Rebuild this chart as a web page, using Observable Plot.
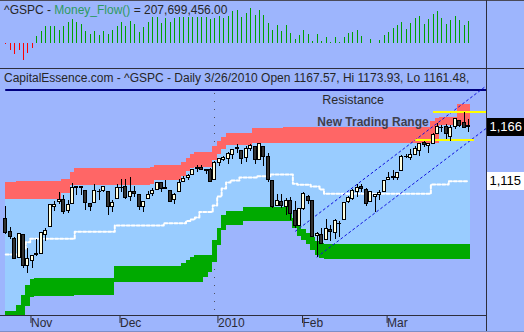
<!DOCTYPE html>
<html><head><meta charset="utf-8">
<script src="https://cdn.jsdelivr.net/npm/d3@7"></script>
<script src="https://cdn.jsdelivr.net/npm/@observablehq/plot@0.6"></script>
<style>
html,body{margin:0;padding:0;background:#9db5fd;}
#chart{position:relative;width:524px;height:332px;overflow:hidden;background:#9db5fd;font-family:"Liberation Sans",Arial,sans-serif;}
#chart svg{position:absolute;left:0;}
.ln{position:absolute;background:#2e2e3c;}
.t{position:absolute;white-space:nowrap;color:#262626;font-size:12px;line-height:12px;}
</style></head><body><div id="chart"></div>
<script>
// ---- Data (bar index 0 = 26 Oct 2009 ... 104 = 26 Mar 2010) ----
const tickIdx = [5, 25, 47, 66, 85];
const tickLabels = ["Nov", "Dec", "2010", "Feb", "Mar"];

const open = [1080.36,1067.54,1061.51,1043.69,1065.41,
1036.18,1040.92,1047.14,1047.30,1064.95,1072.31,1091.86,1096.04,1098.31,1087.59,1094.13,1109.22,1109.44,1106.44,1094.66,1094.86,1105.83,1106.49,1105.47,1091.07,
1098.89,1109.03,1110.59,1100.43,1105.52,1103.04,1091.07,1098.69,1103.96,1107.84,1114.11,1108.61,1106.36,1097.86,1105.31,1114.51,1118.84,1121.08,1127.53,1128.55,1125.53,1126.60,
1116.56,1132.66,1135.71,1136.27,1140.52,1145.96,1143.81,1137.31,1145.68,1147.72,1136.03,1147.95,1138.68,1115.49,1092.40,1095.80,1091.94,1096.93,1087.61,
1073.89,1090.05,1100.67,1097.25,1064.12,1065.51,1060.06,1069.68,1067.10,1075.95,1079.13,1096.14,1099.03,1105.49,1110.00,1107.49,1095.89,1101.24,1103.10,
1105.36,1117.01,1119.36,1119.12,1125.12,1138.40,1137.56,1140.22,1143.96,1151.71,1148.53,1150.83,1159.94,1166.13,1166.68,1157.25,1166.47,1172.70,1170.03,1167.58];
const high = [1091.75,1072.48,1063.26,1066.83,1065.41,
1052.18,1046.36,1061.00,1066.65,1071.48,1093.19,1096.42,1105.37,1101.97,1097.79,1113.69,1110.52,1111.10,1106.44,1094.66,1112.38,1107.56,1111.18,1105.47,1097.24,
1112.28,1117.58,1117.28,1119.13,1110.72,1103.04,1097.04,1106.25,1108.50,1114.76,1114.11,1116.21,1106.36,1103.74,1117.68,1120.27,1121.58,1126.48,1130.38,1130.38,1126.42,1127.64,
1133.87,1136.63,1139.19,1142.46,1145.39,1149.74,1143.81,1148.40,1150.41,1147.77,1150.45,1147.95,1141.58,1115.49,1102.97,1103.69,1099.51,1100.22,1096.45,
1089.38,1104.73,1102.72,1097.25,1067.13,1071.20,1079.28,1073.67,1080.04,1077.81,1095.67,1101.03,1108.24,1112.42,1112.29,1108.58,1106.42,1103.50,1107.24,
1116.11,1123.46,1125.64,1123.73,1139.38,1141.05,1145.37,1148.26,1150.24,1153.41,1150.98,1160.28,1169.84,1167.77,1169.20,1167.82,1174.72,1173.04,1180.69,1173.93];
const low = [1065.23,1060.62,1042.19,1043.69,1033.38,
1029.38,1033.94,1045.15,1047.30,1059.32,1072.31,1087.40,1093.81,1084.90,1085.33,1094.13,1102.19,1102.70,1088.40,1086.81,1094.86,1097.63,1104.75,1083.74,1086.25,
1098.89,1105.25,1098.74,1096.52,1100.83,1088.61,1085.89,1098.69,1101.34,1107.84,1105.35,1107.96,1095.88,1093.88,1105.31,1114.51,1116.00,1121.08,1123.51,1126.08,1121.94,1114.81,
1116.56,1129.66,1133.95,1131.32,1136.22,1142.02,1131.77,1133.18,1143.80,1131.39,1135.77,1129.25,1114.84,1090.18,1092.40,1089.86,1083.11,1078.46,1071.59,
1073.89,1087.96,1093.97,1062.78,1044.50,1056.51,1060.06,1059.34,1060.59,1062.97,1079.13,1094.72,1097.48,1100.80,1105.38,1092.18,1095.50,1086.02,1097.56,
1105.36,1116.51,1116.58,1116.66,1125.12,1136.77,1134.90,1140.09,1138.99,1146.97,1141.45,1150.35,1159.94,1161.16,1155.33,1152.88,1163.83,1166.01,1165.09,1161.48];
const close = [1066.95,1063.41,1042.63,1066.11,1036.19,
1042.88,1045.41,1046.50,1066.63,1069.30,1093.08,1093.01,1098.51,1087.24,1093.48,1109.30,1110.32,1109.80,1094.90,1091.38,1106.24,1105.65,1110.63,1091.49,1095.63,
1108.86,1109.24,1099.92,1105.98,1103.25,1091.94,1095.95,1102.35,1106.41,1114.11,1107.93,1109.18,1096.08,1102.47,1114.05,1118.02,1120.59,1126.48,1127.78,1126.20,1126.42,1115.10,
1132.99,1136.52,1137.14,1141.69,1144.98,1146.98,1136.22,1145.68,1148.46,1136.03,1150.23,1138.04,1116.48,1091.76,1096.78,1092.17,1097.50,1084.53,1073.87,
1089.19,1103.32,1097.28,1063.11,1066.19,1056.74,1070.52,1068.13,1078.47,1075.51,1094.87,1099.51,1106.75,1109.17,1108.01,1094.60,1105.24,1102.93,1104.49,
1115.71,1118.31,1118.79,1122.97,1138.70,1138.50,1140.45,1145.61,1150.24,1149.99,1150.51,1159.46,1166.21,1165.83,1159.90,1165.81,1174.17,1167.72,1165.73,1166.59];

// Money flow, millions
const moneyFlow = [-7,-62,-102,-62,-155,-93,-40,
68,112,158,158,158,126,158,200,223,196,177,112,88,112,79,112,88,126,
163,200,163,205,177,102,154,200,242,247,186,233,200,233,247,247,247,247,247,247,247,223,
233,251,233,256,303,312,249,286,329,263,310,263,189,124,170,115,170,96,40,
77,124,87,21,87,21,59,16,59,16,59,96,105,124,68,7,40,0,31,
77,105,142,170,198,133,189,236,254,180,226,273,301,236,180,217,254,217,170,208];

// Upper (red) band
const redTop = [1114.2,1114.2,1114.2,1115.4,1115.4,1115.4,1115.4,1115.4,1115.4,1115.4,
1115.4,1115.4,1115.4,1117.0,1117.0,1123.9,1127.6,1127.6,1127.6,1127.6,
1127.6,1127.6,1127.6,1127.6,1127.6,1127.6,1127.6,1127.6,1127.6,1127.6,
1127.6,1127.6,1127.6,1128.9,1130.4,1130.4,1130.4,1130.4,1130.4,1130.4,
1133.3,1137.0,1140.8,1142.4,1142.4,1142.4,1142.4,1148.3,1153.0,1156.3,
1160.2,1160.2,1160.2,1160.2,1160.2,1160.2,1164.9,1164.9,1164.9,1164.9,
1164.9,1164.9,1164.9,1166.4,1166.4,1166.4,1166.4,1166.4,1166.4,1166.4,
1166.4,1166.4,1166.4,1166.4,1166.4,1166.4,1166.4,1166.4,1166.4,1166.4,
1166.4,1166.4,1166.4,1166.4,1166.4,1166.4,1166.4,1166.4,1166.4,1166.4,
1166.4,1166.4,1166.4,1166.4,1166.4,1166.4,1171.8,1174.6,1175.5,1175.5,
1175.5,1175.5,1188.0,1188.0,1188.0];
const redBot = [1098.5,1098.5,1098.5,1098.5,1098.5,1098.5,1098.5,1098.5,1098.5,1098.5,
1098.5,1098.5,1098.5,1104.2,1104.2,1111.7,1111.7,1111.7,1111.7,1111.7,
1111.7,1111.7,1111.7,1111.7,1111.7,1111.7,1111.7,1111.7,1111.7,1111.7,
1111.7,1111.7,1111.7,1112.6,1115.9,1115.9,1115.9,1115.9,1115.9,1115.9,
1120.0,1124.5,1127.5,1128.9,1128.9,1128.9,1128.9,1135.1,1140.8,1145.5,
1149.2,1149.2,1149.2,1149.2,1149.2,1149.2,1151.3,1151.3,1151.3,1151.3,
1151.3,1151.3,1151.3,1151.3,1151.3,1151.3,1151.3,1151.3,1151.3,1151.3,
1151.3,1151.3,1151.3,1151.3,1151.3,1151.3,1151.3,1151.3,1151.3,1151.3,
1151.3,1151.3,1151.3,1151.3,1151.3,1151.3,1151.3,1151.3,1151.3,1151.3,
1151.3,1151.3,1151.3,1151.3,1151.3,1151.3,1151.3,1151.3,1167.7,1167.7,
1167.7,1167.7,1167.7,1167.7,1167.7];
// Lower (green) band
const greenTop = [993.4,993.4,993.4,999.0,1008.4,1017.8,1023.4,1024.3,1024.3,1024.3,
1024.3,1024.3,1024.3,1024.3,1024.3,1024.3,1024.3,1024.3,1024.3,1024.3,
1024.3,1024.3,1024.3,1024.3,1024.3,1035.4,1035.4,1035.4,1035.4,1035.4,
1035.4,1035.4,1035.4,1035.4,1035.4,1035.4,1035.4,1035.4,1035.4,1035.4,
1038.4,1041.2,1044.0,1046.0,1046.0,1046.0,1046.0,1060.0,1071.3,1083.5,
1087.3,1087.3,1087.3,1087.3,1091.3,1091.3,1091.3,1091.3,1091.3,1091.3,
1091.3,1091.3,1091.3,1091.3,1091.3,1080.7,1073.2,1070.4,1066.6,1062.8,
1059.1,1056.9,1056.7,1056.7,1056.7,1056.7,1056.7,1056.7,1056.7,1056.7,
1056.7,1056.7,1056.7,1056.7,1056.7,1056.7,1056.7,1056.7,1056.7,1056.7,
1056.7,1056.7,1056.7,1056.7,1056.7,1056.7,1056.7,1056.7,1056.7,1056.7,
1056.7,1056.7,1056.7,1056.7,1056.7];
const greenBot = [975.5,975.5,975.5,977.4,986.8,998.1,1006.5,1007.4,1007.4,1007.4,
1007.4,1007.4,1007.4,1007.4,1007.4,1007.4,1008.4,1008.4,1008.4,1008.4,
1008.4,1008.4,1008.4,1008.4,1008.4,1020.6,1020.6,1020.6,1020.6,1020.6,
1020.6,1020.6,1020.6,1020.6,1020.6,1020.6,1020.6,1020.6,1020.6,1020.6,
1020.6,1020.6,1020.6,1020.6,1020.6,1025.3,1030.0,1039.4,1055.3,1069.4,
1074.1,1074.1,1074.1,1074.1,1077.9,1077.9,1077.9,1077.9,1077.9,1077.9,
1077.9,1077.9,1077.9,1077.9,1077.9,1071.3,1063.8,1060.0,1056.3,1050.6,
1045.9,1043.1,1042.2,1042.2,1042.2,1042.2,1042.2,1042.2,1042.2,1042.2,
1042.2,1042.2,1042.2,1042.2,1042.2,1042.2,1042.2,1042.2,1042.2,1042.2,
1042.2,1042.2,1042.2,1042.2,1042.2,1042.2,1042.2,1042.2,1042.2,1042.2,
1042.2,1042.2,1042.2,1042.2,1042.2];
// White dotted middle line
const midLine = [1046.9,1046.9,1046.9,1046.9,1052.5,1058.4,1061.6,1061.6,1061.6,1061.6,
1061.6,1061.6,1061.6,1061.6,1061.6,1061.6,1068.2,1068.2,1068.2,1068.2,
1068.2,1068.2,1068.2,1068.2,1068.2,1074.1,1074.1,1074.1,1074.1,1074.1,
1074.1,1074.1,1074.1,1074.1,1074.1,1074.1,1076.3,1076.3,1076.3,1076.3,
1076.3,1078.3,1079.7,1081.6,1086.8,1086.8,1086.8,1092.9,1101.3,1108.9,
1114.5,1116.4,1116.4,1119.2,1119.2,1119.2,1119.2,1120.4,1120.4,1120.4,
1122.0,1122.0,1122.0,1122.0,1122.0,1113.3,1112.3,1112.3,1112.3,1110.7,
1110.7,1107.9,1103.9,1103.9,1103.9,1103.9,1103.9,1103.9,1103.9,1103.9,
1103.9,1103.9,1103.9,1103.9,1103.9,1103.9,1103.9,1103.9,1103.9,1103.9,
1103.9,1103.9,1103.9,1103.9,1103.9,1103.9,1112.6,1112.6,1112.6,1112.6,
1115.7,1115.7,1115.7,1115.7,1115.7];

// Annotations
const resistance = [{x1: 0, x2: 108, y: 1201.3}];
const tradingRange = [{x1: 96.1, x2: 108, y: 1180.7}, {x1: 92.1, x2: 105.3, y: 1154.4}];
const channel = [
  {k: "upper", x: 65.1, y: 1068.8}, {k: "upper", x: 108, y: 1205.4},
  {k: "lower", x: 69.93, y: 1044.5}, {k: "lower", x: 108, y: 1165.5}
];
const noteResistance = [{x: 71.1, y: 1192.4, text: "Resistance"}];
const noteRange = [{x: 70.0, y: 1171.0, text: "New Trading Range"}];
const lastLabels = [
  {y: 1166.59, text: "1,166", bg: "#000000", fg: "#ffffff"},
  {y: 1115.7, text: "1,115", bg: "#ffffff", fg: "#000000"}
];
const yearStartIdx = 47;

// ---- Build ----
const xDomain = [-0.5, 108];
const yMain = [989.6, 1220.6];
const yFlow = [-230, 403];
const bars = close.map((c, i) => ({i, o: open[i], h: high[i], l: low[i], c, mf: moneyFlow[i],
  rt: redTop[i], rb: redBot[i], gt: greenTop[i], gb: greenBot[i], mid: midLine[i]}));
const bx1 = d => d.i === 0 ? d.i : d.i - 0.5;
const bx2 = d => d.i + 0.5;
const font = "Liberation Sans, Arial, sans-serif";
const svgStyle = {background: "transparent", overflow: "visible", fontFamily: font};

const mainPlotH = 263, mainFrameH = 246;
const boxHalf = 9 * (yMain[1] - yMain[0]) / mainFrameH;

const topPlot = Plot.plot({
  width: 524, height: 68, marginLeft: 3, marginRight: 38, marginTop: 0, marginBottom: 0,
  x: {domain: xDomain, axis: null}, y: {domain: yFlow, axis: null},
  style: svgStyle,
  marks: [
    Plot.ruleX(bars, {x: "i", y1: 0, y2: "mf", stroke: d => d.mf < 0 ? "#ff0000" : "#00a000",
      strokeWidth: 1, shapeRendering: "crispEdges"})
  ]
});
topPlot.style.top = "0px";

const mainPlot = Plot.plot({
  width: 524, height: mainPlotH, marginLeft: 3, marginRight: 38, marginTop: 0, marginBottom: 17,
  x: {domain: xDomain, axis: null}, y: {domain: yMain, axis: null},
  style: svgStyle,
  marks: [
    Plot.ruleX([yearStartIdx], {x: d => d, y1: 1198.5, y2: yMain[0], stroke: "#505060", strokeDasharray: "1,7", shapeRendering: "crispEdges"}),
    Plot.rect(bars, {x1: bx1, x2: bx2, y1: "gt", y2: "rb", fill: "#99ccff", shapeRendering: "crispEdges", clip: true}),
    Plot.rect(bars, {x1: bx1, x2: bx2, y1: "rb", y2: "rt", fill: "#ff6666", shapeRendering: "crispEdges", clip: true}),
    Plot.rect(bars, {x1: bx1, x2: bx2, y1: "gb", y2: "gt", fill: "#00aa00", shapeRendering: "crispEdges", clip: true}),
    Plot.line(bars, {x: "i", y: "mid", curve: "step", stroke: "#ffffff", strokeWidth: 2, strokeDasharray: "3,2"}),
    Plot.ruleY(resistance, {x1: "x1", x2: "x2", y: "y", stroke: "#000080", strokeWidth: 2}),
    Plot.line(channel, {x: "x", y: "y", z: "k", stroke: "#1010dd", strokeWidth: 1, strokeDasharray: "2,3"}),
    Plot.ruleY(tradingRange, {x1: "x1", x2: "x2", y: "y", stroke: "#ffff00", strokeWidth: 2}),
    Plot.ruleX(bars, {x: "i", y1: "l", y2: "h", stroke: "#000000", strokeWidth: 1, shapeRendering: "crispEdges"}),
    Plot.rect(bars, {x1: d => d.i - 0.34, x2: d => d.i + 0.34, y1: "o", y2: "c",
      fill: d => d.c >= d.o ? "#ffffe0" : "#333333", stroke: "#000000", strokeWidth: 1, shapeRendering: "crispEdges"}),
    Plot.text(noteResistance, {x: "x", y: "y", text: "text", textAnchor: "start", lineAnchor: "middle",
      fontSize: 12.5, fill: "#2a2a2a", fontFamily: font}),
    Plot.text(noteRange, {x: "x", y: "y", text: "text", textAnchor: "start", lineAnchor: "middle",
      fontSize: 12, fontWeight: "bold", fill: "#3f3f4c", fontFamily: font}),
    Plot.rect(lastLabels, {x1: xDomain[1] + 0.15, x2: xDomain[1] + 8.8, y1: d => d.y - boxHalf, y2: d => d.y + boxHalf,
      fill: d => d.bg, shapeRendering: "crispEdges"}),
    Plot.text(lastLabels, {x: xDomain[1], y: "y", text: "text", dx: 3, textAnchor: "start", lineAnchor: "middle",
      fill: d => d.fg, fontSize: 13, fontFamily: font}),
    Plot.axisX(tickIdx, {anchor: "bottom", tickSize: 8, tickPadding: -4.8, textAnchor: "start", dx: 3,
      tickFormat: d => tickLabels[tickIdx.indexOf(d)], fontSize: 12, color: "#2a2a35", label: null, fontFamily: font})
  ]
});
mainPlot.style.top = "69px";

const chart = document.getElementById("chart");
chart.appendChild(topPlot);
chart.appendChild(mainPlot);

function line(l, t, w, h, c) {
  const d = document.createElement("div");
  d.className = "ln";
  Object.assign(d.style, {left: l + "px", top: t + "px", width: w + "px", height: h + "px"});
  if (c) d.style.background = c;
  chart.appendChild(d);
}
line(0, 0, 524, 1, "#4a4a58");
line(0, 68, 524, 1);
line(486, 0, 1, 332);
line(0, 315, 486, 1);
line(0, 331, 524, 1, "#7d8fc8");

function label(html, l, t) {
  const d = document.createElement("div");
  d.className = "t";
  d.innerHTML = html;
  Object.assign(d.style, {left: l + "px", top: t + "px"});
  chart.appendChild(d);
}
label('^GSPC - <span style="color:#2e9a62">Money_Flow()</span> = 207,699,456.00', 4, 4);
label('CapitalEssence.com - ^GSPC - Daily 3/26/2010 Open 1167.57, Hi 1173.93, Lo 1161.48,', 4, 72);
</script></body></html>
